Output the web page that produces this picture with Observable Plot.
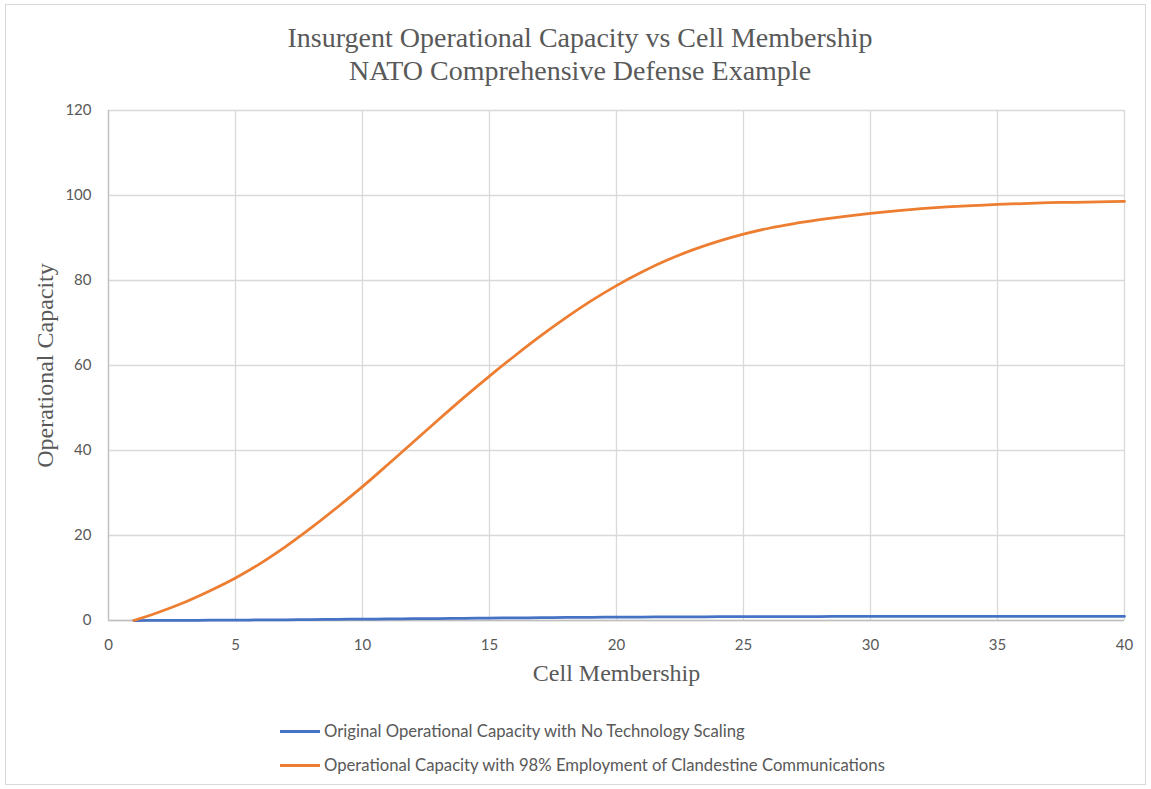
<!DOCTYPE html>
<html>
<head>
<meta charset="utf-8">
<script src="https://cdn.jsdelivr.net/npm/d3@7"></script>
<script src="https://cdn.jsdelivr.net/npm/@observablehq/plot@0.6"></script>
<style>
  html, body { margin: 0; padding: 0; background: #fff; }
  #page { position: relative; width: 1151px; height: 789px; overflow: hidden; }
  #frame { position: absolute; left: 5px; top: 4px; width: 1141px; height: 781px; border: 1px solid #d9d9d9; box-sizing: border-box; }
  #title { position: absolute; left: 0; top: 21px; width: 1160px; text-align: center;
           font-family: "Liberation Serif", "DejaVu Serif", serif; font-size: 28px; line-height: 33px; color: #595959; }
  #chart { position: absolute; left: 0; top: 90px; }
  .legend { position: absolute; left: 280px; font-family: Lato, sans-serif; font-size: 16.7px; color: #595959; white-space: nowrap; }
  .legend .sw { display: inline-block; width: 40px; height: 3px; vertical-align: middle; margin-right: 4px; position: relative; top: -1px; }
</style>
</head>
<body>
<div id="page">
  <div id="frame"></div>
  <div id="title">Insurgent Operational Capacity vs Cell Membership<br>NATO Comprehensive Defense Example</div>
  <div id="chart"></div>
  <div class="legend" id="leg1" style="top:721px"><span class="sw" style="background:#4472C4"></span><span class="lt"></span></div>
  <div class="legend" id="leg2" style="top:755px"><span class="sw" style="background:#ED7D31"></span><span class="lt"></span></div>
</div>
<script>
// Cell membership (x) and the two capacity series
const membership = [1,2,3,4,5,6,7,8,9,10,11,12,13,14,15,16,17,18,19,20,
                    21,22,23,24,25,26,27,28,29,30,31,32,33,34,35,36,37,38,39,40];
const originalCapacity = [0,0.02,0.04,0.07,0.10,0.13,0.17,0.22,0.27,0.32,0.37,0.42,0.47,0.52,0.57,
                          0.62,0.67,0.71,0.75,0.79,0.82,0.85,0.87,0.89,0.91,0.92,0.93,0.94,0.95,0.96,
                          0.96,0.97,0.97,0.98,0.98,0.98,0.98,0.98,0.99,0.99];
const clandestineCapacity = [0,2.0,4.3,7.0,10.0,13.5,17.5,21.9,26.6,31.5,36.7,42.0,47.3,52.5,57.5,
                             62.3,66.9,71.2,75.2,78.8,82.0,84.8,87.2,89.2,90.9,92.3,93.4,94.3,95.1,95.8,
                             96.4,96.9,97.3,97.6,97.9,98.1,98.3,98.4,98.5,98.6];
const seriesNames = ["Original Operational Capacity with No Technology Scaling",
                     "Operational Capacity with 98% Employment of Clandestine Communications"];
const seriesColors = ["#4472C4", "#ED7D31"];
const xTicks = [0,5,10,15,20,25,30,35,40];
const yTicks = [0,20,40,60,80,100,120];
const xLabel = "Cell Membership";
const yLabel = "Operational Capacity";

const rows = [
  ...membership.map((m, i) => ({x: m, y: originalCapacity[i], s: seriesNames[0]})),
  ...membership.map((m, i) => ({x: m, y: clandestineCapacity[i], s: seriesNames[1]}))
];

const serif = "'Liberation Serif', 'DejaVu Serif', serif";

const chart = Plot.plot({
  width: 1151,
  height: 620,
  marginLeft: 108,
  marginRight: 27,
  marginTop: 20,
  marginBottom: 90,
  style: {fontFamily: "Lato, sans-serif", fontSize: "15px", color: "#595959", background: "transparent", overflow: "visible"},
  x: {domain: [0, 40], label: null},
  y: {domain: [0, 120], label: null},
  color: {domain: seriesNames, range: seriesColors},
  marks: [
    Plot.gridX(xTicks, {stroke: "#d9d9d9", strokeOpacity: 1, strokeWidth: 1.3}),
    Plot.gridY(yTicks, {stroke: "#d9d9d9", strokeOpacity: 1, strokeWidth: 1.3}),
    Plot.ruleX([0], {stroke: "#bfbfbf", strokeWidth: 1.3}),
    Plot.ruleY([0], {stroke: "#bfbfbf", strokeWidth: 1.3}),
    Plot.axisX({ticks: xTicks, tickSize: 0, tickPadding: 19, label: null, fill: "#595959"}),
    Plot.axisY({ticks: yTicks, tickSize: 0, tickPadding: 17, label: null, fill: "#595959"}),
    Plot.line(rows, {x: "x", y: "y", z: "s", stroke: "s", strokeWidth: 2.75, curve: "catmull-rom"}),
    Plot.text([yLabel], {frameAnchor: "left", textAnchor: "middle", dx: -63, rotate: -90, fontFamily: serif, fontSize: 24, fill: "#595959"}),
    Plot.text([xLabel], {frameAnchor: "bottom", textAnchor: "middle", dy: 60, fontFamily: serif, fontSize: 24, fill: "#595959"})
  ]
});
document.getElementById("chart").appendChild(chart);
document.querySelector("#leg1 .lt").textContent = seriesNames[0];
document.querySelector("#leg2 .lt").textContent = seriesNames[1];
</script>
</body>
</html>
